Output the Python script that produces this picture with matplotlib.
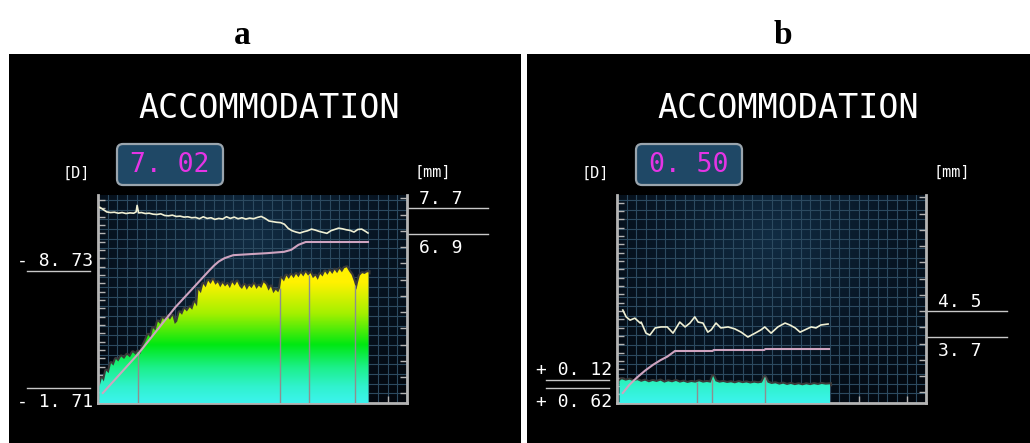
import matplotlib
matplotlib.use("Agg")
import matplotlib.pyplot as plt
import matplotlib.transforms as mtransforms
import numpy as np
from matplotlib.colors import LinearSegmentedColormap
from matplotlib.patches import FancyBboxPatch, Polygon, Rectangle
from matplotlib.ticker import MultipleLocator

# ---- data ----
# time in s, accommodation response in D (sign flipped), pupil in mm

# panel a
a_resp_t = [0.03, 0.08, 0.12, 0.17, 0.22, 0.27, 0.32, 0.37, 0.42, 0.48,
            0.54, 0.60, 0.66, 0.72, 0.78, 0.83, 0.88, 0.93, 0.98, 1.04,
            1.09, 1.14, 1.19, 1.24, 1.29, 1.34, 1.39, 1.44, 1.49, 1.54,
            1.59, 1.64, 1.69, 1.74, 1.79, 1.84, 1.90, 1.95, 2.00, 2.05,
            2.08, 2.13, 2.18, 2.23, 2.28, 2.33, 2.38, 2.43, 2.48, 2.53,
            2.58, 2.63, 2.68, 2.73, 2.78, 2.83, 2.88, 2.93, 2.98, 3.03,
            3.08, 3.13, 3.18, 3.23, 3.28, 3.33, 3.38, 3.43, 3.48, 3.53,
            3.58, 3.63, 3.68, 3.73, 3.77, 3.80, 3.85, 3.90, 3.95, 4.00,
            4.05, 4.10, 4.15, 4.20, 4.25, 4.30, 4.35, 4.40, 4.45, 4.50,
            4.55, 4.60, 4.65, 4.70, 4.75, 4.80, 4.85, 4.90, 4.95, 5.00,
            5.05, 5.10, 5.15, 5.20, 5.25, 5.30, 5.35, 5.38, 5.42, 5.47,
            5.52, 5.57, 5.60]
a_resp = [1.80, 2.30, 2.10, 2.75, 2.60, 3.20, 3.05, 3.45, 3.30, 3.60,
          3.45, 3.70, 3.55, 3.85, 3.70, 3.90, 3.75, 4.20, 4.50, 4.90,
          4.70, 5.30, 5.15, 5.70, 5.55, 5.90, 5.75, 6.00, 5.80, 6.05,
          5.55, 5.70, 6.25, 6.10, 6.45, 6.30, 6.55, 6.40, 6.85, 6.60,
          7.60, 7.40, 7.95, 7.75, 8.15, 7.95, 8.20, 7.90, 8.05, 7.75,
          8.00, 7.80, 7.95, 7.70, 8.05, 7.85, 8.10, 7.80, 7.65, 7.90,
          7.60, 7.85, 7.70, 7.95, 7.65, 7.85, 7.70, 8.05, 7.90, 7.55,
          7.80, 7.40, 7.60, 7.45, 7.70, 8.30, 8.10, 8.45, 8.25, 8.50,
          8.30, 8.55, 8.35, 8.60, 8.40, 8.65, 8.45, 8.60, 8.30, 8.45,
          8.20, 8.55, 8.40, 8.70, 8.50, 8.75, 8.55, 8.80, 8.60, 8.85,
          8.65, 8.90, 8.95, 8.70, 8.50, 8.10, 7.60, 8.00, 8.45, 8.60,
          8.55, 8.65, 8.65]
a_target_t = [0.10, 0.83, 1.60, 2.30, 2.40, 2.50, 2.62, 2.80, 3.20, 3.50,
              3.85, 4.00, 4.15, 4.30, 5.59]
a_target = [1.41, 3.75, 6.55, 8.75, 9.05, 9.30, 9.50, 9.68, 9.75, 9.80,
            9.88, 10.00, 10.30, 10.47, 10.47]
a_pupil_t = [0.04, 0.10, 0.18, 0.26, 0.34, 0.42, 0.50, 0.58, 0.66, 0.74,
             0.79, 0.81, 0.84, 0.90, 0.98, 1.06, 1.14, 1.22, 1.30, 1.38,
             1.46, 1.54, 1.62, 1.70, 1.78, 1.86, 1.94, 2.02, 2.10, 2.18,
             2.26, 2.34, 2.42, 2.50, 2.58, 2.66, 2.74, 2.82, 2.90, 2.98,
             3.06, 3.14, 3.22, 3.30, 3.38, 3.46, 3.54, 3.62, 3.70, 3.78,
             3.86, 3.94, 4.02, 4.10, 4.18, 4.26, 4.34, 4.42, 4.50, 4.58,
             4.66, 4.74, 4.82, 4.90, 4.98, 5.06, 5.14, 5.22, 5.30, 5.38,
             5.46, 5.54, 5.59]
a_pupil = [7.72, 7.66, 7.58, 7.56, 7.57, 7.54, 7.56, 7.53, 7.55, 7.54,
           7.58, 7.78, 7.55, 7.56, 7.53, 7.54, 7.51, 7.50, 7.52, 7.47,
           7.46, 7.48, 7.44, 7.45, 7.42, 7.43, 7.40, 7.41, 7.37, 7.43,
           7.38, 7.40, 7.35, 7.38, 7.36, 7.43, 7.38, 7.42, 7.37, 7.40,
           7.36, 7.39, 7.37, 7.41, 7.44, 7.38, 7.30, 7.28, 7.26, 7.25,
           7.20, 7.07, 7.00, 6.96, 6.93, 6.97, 7.00, 7.05, 7.02, 6.98,
           6.95, 6.92, 7.00, 7.04, 7.08, 7.06, 7.03, 7.01, 6.96, 7.04,
           7.05, 6.98, 6.93]
a_marks = [0.83, 3.77, 4.37, 5.32]
a_amp = "7. 02"
a_range = [8.73, 1.71]
a_range_labels = ["- 8. 73", "- 1. 71"]
a_pupil_range = [7.7, 6.9]
a_pupil_labels = ["7. 7", "6. 9"]

# panel b
b_resp_t = [0.05, 0.10, 0.18, 0.26, 0.34, 0.42, 0.50, 0.58, 0.66, 0.74,
            0.82, 0.90, 0.98, 1.06, 1.14, 1.22, 1.30, 1.38, 1.46, 1.54,
            1.62, 1.70, 1.78, 1.86, 1.94, 1.99, 2.04, 2.12, 2.20, 2.28,
            2.36, 2.44, 2.52, 2.60, 2.68, 2.76, 2.84, 2.92, 3.00, 3.06,
            3.12, 3.20, 3.28, 3.36, 3.44, 3.52, 3.60, 3.68, 3.76, 3.84,
            3.92, 4.00, 4.08, 4.16, 4.24, 4.32, 4.41]
b_resp = [-0.20, -0.10, -0.18, -0.12, -0.22, -0.15, -0.25, -0.18, -0.28, -0.20,
          -0.26, -0.18, -0.30, -0.22, -0.28, -0.20, -0.30, -0.24, -0.32, -0.26,
          -0.30, -0.22, -0.30, -0.26, -0.30, 0.10, -0.22, -0.30, -0.26, -0.32,
          -0.28, -0.34, -0.27, -0.33, -0.29, -0.35, -0.30, -0.34, -0.30, 0.04,
          -0.30, -0.38, -0.34, -0.42, -0.36, -0.44, -0.38, -0.45, -0.40, -0.46,
          -0.40, -0.45, -0.39, -0.44, -0.38, -0.42, -0.40]
b_target_t = [0.12, 0.25, 0.41, 0.58, 0.75, 0.90, 1.04, 1.20, 1.98, 2.00,
              3.05, 3.07, 4.39]
b_target = [-0.92, -0.45, 0.00, 0.42, 0.78, 1.05, 1.26, 1.60, 1.60, 1.66,
            1.66, 1.72, 1.72]
b_pupil_t = [0.12, 0.19, 0.27, 0.37, 0.48, 0.50, 0.60, 0.68, 0.79, 0.91,
             1.04, 1.16, 1.30, 1.41, 1.51, 1.61, 1.68, 1.78, 1.88, 1.95,
             2.05, 2.15, 2.30, 2.44, 2.57, 2.71, 2.86, 2.98, 3.06, 3.19,
             3.33, 3.48, 3.58, 3.69, 3.79, 3.89, 4.02, 4.12, 4.22, 4.37]
b_pupil = [4.53, 4.32, 4.22, 4.28, 4.13, 4.16, 3.82, 3.76, 3.98, 4.01,
           4.01, 3.82, 4.16, 4.01, 4.13, 4.32, 4.16, 4.13, 3.85, 3.92,
           4.13, 3.98, 4.01, 3.95, 3.85, 3.70, 3.82, 3.92, 4.01, 3.82,
           4.01, 4.13, 4.07, 3.98, 3.85, 3.92, 4.01, 3.98, 4.07, 4.10]
b_marks = [1.66, 1.97, 3.06]
b_amp = "0. 50"
b_range = [-0.12, -0.62]
b_range_labels = ["+ 0. 12", "+ 0. 62"]
b_pupil_range = [4.5, 3.7]
b_pupil_labels = ["4. 5", "3. 7"]

# ---- layout (pixels of the 1030x443 picture) ----
W, H = 1030, 443
PLOT_W, PLOT_H, PLOT_BOTTOM = 309, 208, 403
GRID_PX = 9.66
MONO = "DejaVu Sans Mono"

fig = plt.figure(figsize=(W / 100, H / 100), dpi=100)
fig.patch.set_facecolor("white")

canvas = fig.add_axes([0, 0, 1, 1])
canvas.set_xlim(0, W)
canvas.set_ylim(H, 0)
canvas.axis("off")
canvas.add_patch(Rectangle((9, 54), 512, H - 54, facecolor="black", edgecolor="none"))
canvas.add_patch(Rectangle((527, 54), W - 527, H - 54, facecolor="black", edgecolor="none"))

bg_cmap = LinearSegmentedColormap.from_list("bg", ["#02060c", "#081726", "#112c43"])
fill_cmap = LinearSegmentedColormap.from_list(
    "fill",
    [(0.0, "#3cf4ee"), (0.08, "#30f2cc"), (0.17, "#1cf08a"), (0.28, "#00e812"),
     (0.43, "#a4f000"), (0.58, "#fff200"), (1.0, "#fff200")])
GRID_C = "#2c4a60"

yy, xx = np.mgrid[0:1:120j, 0:1:160j]
glow = np.clip(1 - np.hypot((xx - 0.5) / 0.75, (yy - 0.8) / 1.0), 0, 1)
ramp = np.linspace(0, 1, 256)[:, None]


def draw_panel(x0, ylim, mm_lim, resp_t, resp, target_t, target, pupil_t, pupil,
               marks, amp, rng, rng_labels, prange, plabels, letter, letter_x):
    ax = fig.add_axes([x0 / W, (H - PLOT_BOTTOM) / H, PLOT_W / W, PLOT_H / H])
    ax.imshow(glow, extent=[0, 1, 0, 1], transform=ax.transAxes, origin="lower",
              aspect="auto", cmap=bg_cmap, zorder=0)

    # screen grid
    for k in range(1, 32):
        f = k * GRID_PX / PLOT_W
        ax.plot([f, f], [0, 1], transform=ax.transAxes, color=GRID_C, lw=0.8, zorder=1)
    for k in range(1, 22):
        f = k * GRID_PX / PLOT_H
        ax.plot([0, 1], [f, f], transform=ax.transAxes, color=GRID_C, lw=0.8, zorder=1)

    # response area with height gradient
    lo = ylim[0]
    verts = np.column_stack([np.r_[resp_t[0], resp_t, resp_t[-1]],
                             np.r_[lo, resp, lo]])
    poly = Polygon(verts, closed=True, facecolor="none", edgecolor="none")
    ax.add_patch(poly)
    ax.plot(resp_t, resp, color="#3a3a3a", lw=3.0, zorder=2.5)
    im = ax.imshow(ramp, extent=[0, 1, 0, 1], transform=ax.transAxes, origin="lower",
                   aspect="auto", cmap=fill_cmap, zorder=3)
    im.set_clip_path(poly)
    ax.set_xlim(0, PLOT_W / 48.3)
    ax.set_ylim(*ylim)
    ax.vlines(marks, lo, np.interp(marks, resp_t, resp), colors="#8e8e8e", lw=1, zorder=4)

    ax.plot(target_t, target, color="#cfa4c0", lw=1.5, zorder=5)

    ax2 = ax.twinx()
    ax2.set_ylim(*mm_lim)
    ax2.plot(pupil_t, pupil, color="#f0f0d4", lw=1.2)

    for s in ["top", "right"]:
        ax.spines[s].set_visible(False)
    for s in ["top", "left", "bottom"]:
        ax2.spines[s].set_visible(False)
    for sp in [ax.spines["left"], ax.spines["bottom"], ax2.spines["right"]]:
        sp.set_color("#b4b4b4")
        sp.set_linewidth(2)
    ax.xaxis.set_major_locator(MultipleLocator(1))
    ax.yaxis.set_major_locator(MultipleLocator(0.5))
    ax2.yaxis.set_major_locator(MultipleLocator(0.5))
    ax.tick_params(axis="both", direction="in", length=5, width=1, color="#b4b4b4",
                   labelleft=False, labelbottom=False)
    ax2.tick_params(axis="y", direction="in", length=5, width=1, color="#b4b4b4",
                    labelright=False)

    # min/max accommodation marks on the left
    left = mtransforms.blended_transform_factory(ax.transAxes, ax.transData)
    txt = dict(color="white", fontsize=13, family=MONO)
    for val in rng:
        ax.plot([-0.23, -0.026], [val, val], transform=left, clip_on=False,
                color="#c8c8c8", lw=1)
    ax.annotate(rng_labels[0], xy=(-0.015, rng[0]), xycoords=left, xytext=(0, 5),
                textcoords="offset pixels", ha="right", va="baseline", **txt)
    ax.annotate(rng_labels[1], xy=(-0.015, rng[1]), xycoords=left, xytext=(0, -5),
                textcoords="offset pixels", ha="right", va="top", **txt)

    # pupil marks on the right
    right = mtransforms.blended_transform_factory(ax2.transAxes, ax2.transData)
    for val in prange:
        ax2.plot([1.0, 1.262], [val, val], transform=right, clip_on=False,
                 color="#c8c8c8", lw=1)
    ax2.annotate(plabels[0], xy=(1.04, prange[0]), xycoords=right, xytext=(0, 4),
                 textcoords="offset pixels", ha="left", va="baseline", **txt)
    ax2.annotate(plabels[1], xy=(1.04, prange[1]), xycoords=right, xytext=(0, -5),
                 textcoords="offset pixels", ha="left", va="top", **txt)

    # header texts
    canvas.text(x0 + 171, 108, "ACCOMMODATION", color="white", fontsize=24,
                family=MONO, ha="center", va="center")
    canvas.text(x0 - 22, 173, "[D]", color="white", fontsize=11, family=MONO,
                ha="center", va="center")
    canvas.text(x0 + 335, 172, "[mm]", color="white", fontsize=11, family=MONO,
                ha="center", va="center")
    canvas.add_patch(FancyBboxPatch((x0 + 19, 144), 106, 41,
                                    boxstyle="round,pad=0,rounding_size=6",
                                    facecolor="#1f4866", edgecolor="#9aa5ae", lw=1.6))
    canvas.text(x0 + 72, 165, amp, color="#e534e5", fontsize=19, family=MONO,
                ha="center", va="center")
    canvas.text(letter_x, 35, letter, color="black", fontsize=24, fontweight="bold",
                family="Liberation Serif", ha="center", va="center")


draw_panel(98, (0.81, 13.29), (1.70, 8.10), a_resp_t, a_resp, a_target_t, a_target,
           a_pupil_t, a_pupil, a_marks, a_amp, a_range, a_range_labels,
           a_pupil_range, a_pupil_labels, "a", 242)
draw_panel(617, (-1.52, 10.96), (1.67, 8.07), b_resp_t, b_resp, b_target_t, b_target,
           b_pupil_t, b_pupil, b_marks, b_amp, b_range, b_range_labels,
           b_pupil_range, b_pupil_labels, "b", 783)

fig.savefig("out.png", dpi=100, facecolor="white")
